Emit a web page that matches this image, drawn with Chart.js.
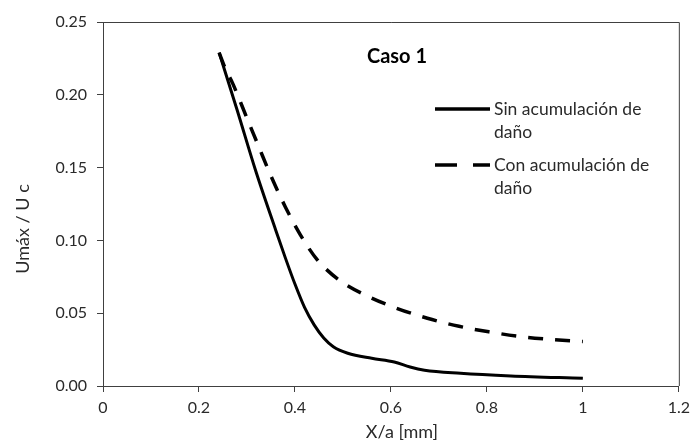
<!DOCTYPE html>
<html>
<head>
<meta charset="utf-8">
<script src="https://cdn.jsdelivr.net/npm/chart.js@4"></script>
<style>
  body { margin: 0; background: #fff; }
  #wrap { width: 696px; height: 443px; }
</style>
</head>
<body>
<div id="wrap"><canvas id="myChart"></canvas></div>
<script>
// data
var xSin = [0.242, 0.28, 0.318, 0.36, 0.38, 0.40, 0.42, 0.44, 0.46, 0.48, 0.51, 0.56, 0.607, 0.64, 0.67, 0.745, 0.85, 1.0];
var ySin = [0.229, 0.189, 0.148, 0.107, 0.088, 0.070, 0.054, 0.042, 0.033, 0.027, 0.0225, 0.019, 0.0165, 0.013, 0.0108, 0.0087, 0.0069, 0.0053];
var xCon = [0.242, 0.255, 0.27, 0.30, 0.325, 0.349, 0.38, 0.411, 0.447, 0.497, 0.554, 0.607, 0.676, 0.742, 0.804, 0.869, 0.935, 1.0];
var yCon = [0.229, 0.218, 0.208, 0.184, 0.164, 0.145, 0.123, 0.104, 0.0865, 0.0716, 0.0613, 0.054, 0.0465, 0.041, 0.0372, 0.034, 0.032, 0.0305];
var xTicks = [0, 0.2, 0.4, 0.6, 0.8, 1, 1.2];
var yTicks = [0, 0.05, 0.10, 0.15, 0.20, 0.25];
var seriesNames = ['Sin acumulación de\ndaño', 'Con acumulación de\ndaño'];
var chartTitle = 'Caso 1';
var xTitle = 'X/a [mm]';
var yTitle = 'Umáx / U c';

var FONT = 'Lato, "Open Sans", sans-serif';
var AXIS = '#404040';
var TEXT = '#2a2a2a';

function pts(xs, ys) {
  return xs.map(function (x, i) { return { x: x, y: ys[i] }; });
}

// frame, title, axis titles and legend
var decor = {
  id: 'decor',
  afterDraw: function (chart) {
    var c = chart.ctx, a = chart.chartArea;
    c.save();
    c.strokeStyle = AXIS;
    c.lineWidth = 1;
    c.beginPath();
    c.moveTo(a.left, a.top + 0.5);
    c.lineTo(a.right + 0.5, a.top + 0.5);
    c.lineTo(a.right + 0.5, a.bottom);
    c.stroke();

    c.fillStyle = '#000';
    c.font = 'bold 20px ' + FONT;
    c.textAlign = 'center';
    c.textBaseline = 'middle';
    c.fillText(chartTitle, 397, 57);

    // axis titles
    c.fillStyle = TEXT;
    c.font = '18px ' + FONT;
    c.fillText(xTitle, 402, 432);
    c.save();
    c.translate(23, 229);
    c.rotate(-Math.PI / 2);
    c.fillText(yTitle, 0, 0);
    c.restore();

    // legend
    var rows = [109, 165];
    var dashes = [[], [22, 16]];
    c.font = '17.5px ' + FONT;
    c.textAlign = 'left';
    for (var i = 0; i < 2; i++) {
      c.beginPath();
      c.lineWidth = 3.5;
      c.strokeStyle = '#000';
      c.setLineDash(dashes[i]);
      c.moveTo(435, rows[i]);
      c.lineTo(490, rows[i]);
      c.stroke();
      c.setLineDash([]);
      var lines = seriesNames[i].split('\n');
      for (var j = 0; j < lines.length; j++) {
        c.fillStyle = TEXT;
        c.fillText(lines[j], 494, rows[i] + j * 23);
      }
    }
    c.restore();
  }
};

var ctx = document.getElementById('myChart').getContext('2d');
var myChart = new Chart(ctx, {
  type: 'scatter',
  data: {
    datasets: [
      {
        label: seriesNames[0],
        data: pts(xSin, ySin),
        showLine: true,
        borderColor: '#000',
        borderWidth: 3,
        pointRadius: 0,
        cubicInterpolationMode: 'monotone'
      },
      {
        label: seriesNames[1],
        data: pts(xCon, yCon),
        showLine: true,
        borderColor: '#000',
        borderWidth: 3.5,
        borderDash: [15, 12],
        pointRadius: 0,
        cubicInterpolationMode: 'monotone'
      }
    ]
  },
  options: {
    responsive: true,
    maintainAspectRatio: false,
    animation: false,
    layout: { padding: { top: 22, right: 12, left: 0, bottom: 0 } },
    plugins: {
      legend: { display: false },
      tooltip: { enabled: false }
    },
    scales: {
      x: {
        type: 'linear',
        min: 0,
        max: 1.2,
        afterBuildTicks: function (axis) {
          axis.ticks = xTicks.map(function (v) { return { value: v }; });
        },
        afterFit: function (axis) { axis.height = 57; },
        ticks: {
          color: TEXT,
          font: { family: FONT, size: 16 },
          padding: 6,
          maxRotation: 0,
          callback: function (v) { return String(v); }
        },
        grid: { drawOnChartArea: false, drawTicks: true, tickLength: 6, color: AXIS },
        border: { color: AXIS }
      },
      y: {
        min: 0,
        max: 0.25,
        afterBuildTicks: function (axis) {
          axis.ticks = yTicks.map(function (v) { return { value: v }; });
        },
        afterFit: function (axis) { axis.width = 103; },
        ticks: {
          color: TEXT,
          font: { family: FONT, size: 16 },
          padding: 10,
          callback: function (v) { return v.toFixed(2); }
        },
        grid: { drawOnChartArea: false, drawTicks: true, tickLength: 6, color: AXIS },
        border: { color: AXIS }
      }
    }
  },
  plugins: [decor]
});
</script>
</body>
</html>
